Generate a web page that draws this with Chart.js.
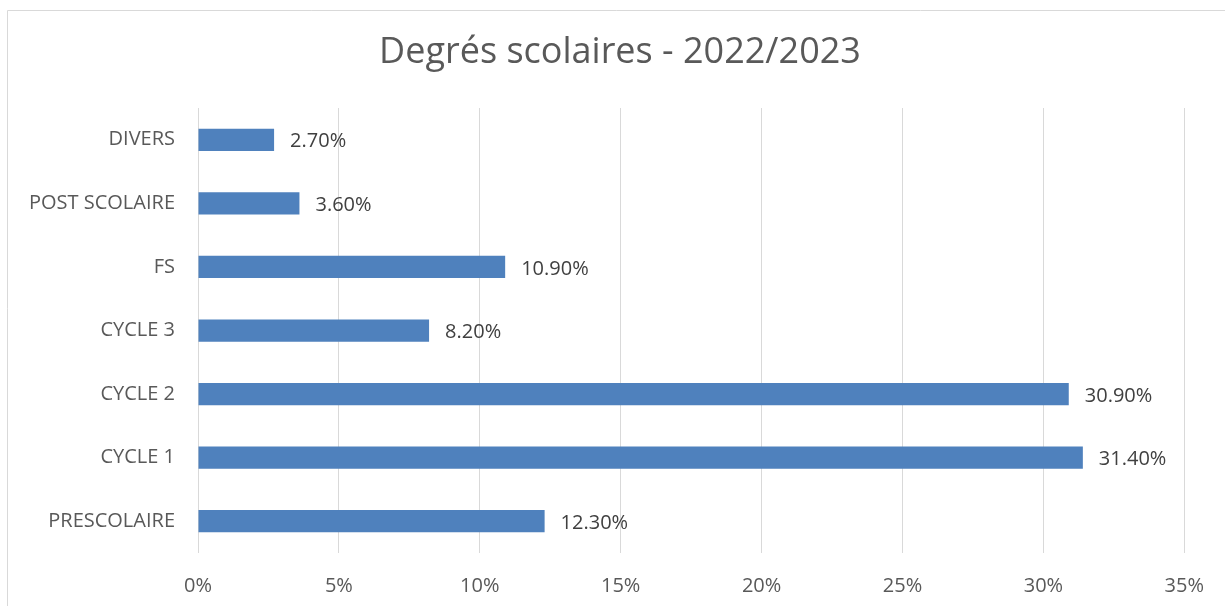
<!DOCTYPE html>
<html>
<head>
<meta charset="utf-8">
<script src="https://cdn.jsdelivr.net/npm/chart.js@4/dist/chart.umd.min.js"></script>
<style>
	body { margin: 0; background: #fff; overflow: hidden; }
	canvas { display: block; }
</style>
</head>
<body>
<canvas id="target" width="1225" height="606"></canvas>
<script>
const categories = ['DIVERS', 'POST SCOLAIRE', 'FS', 'CYCLE 3', 'CYCLE 2', 'CYCLE 1', 'PRESCOLAIRE'];
const shares = [2.7, 3.6, 10.9, 8.2, 30.9, 31.4, 12.3];
const xTicks = [0, 5, 10, 15, 20, 25, 30, 35];
const chartTitle = 'Degrés scolaires - 2022/2023';

const FONT = "'Open Sans', sans-serif";

// grey frame of the chart area (only left and top edges are visible) + title
const frame = {
	id: 'frame',
	beforeDraw(chart) {
		const ctx = chart.ctx;
		ctx.save();
		ctx.strokeStyle = '#d9d9d9';
		ctx.lineWidth = 1;
		ctx.beginPath();
		ctx.moveTo(7.5, chart.height);
		ctx.lineTo(7.5, 10.5);
		ctx.lineTo(chart.width, 10.5);
		ctx.stroke();

		// title centred on the full chart frame, not the padded box
		ctx.font = '36px ' + FONT;
		ctx.fillStyle = '#595959';
		ctx.textAlign = 'center';
		ctx.textBaseline = 'middle';
		ctx.fillText(chartTitle, 620, 53);
		ctx.restore();
	}
};

// value labels at the end of each bar
const barLabels = {
	id: 'barLabels',
	afterDatasetsDraw(chart) {
		const ctx = chart.ctx;
		const meta = chart.getDatasetMeta(0);
		ctx.save();
		ctx.font = '20px ' + FONT;
		ctx.fillStyle = '#404040';
		ctx.textAlign = 'left';
		ctx.textBaseline = 'middle';
		meta.data.forEach((bar, i) => {
			ctx.fillText(shares[i].toFixed(2) + '%', bar.x + 16, bar.y + 2);
		});
		ctx.restore();
	}
};

new Chart(document.getElementById('target'), {
	type: 'bar',
	data: {
		labels: categories,
		datasets: [{
			data: shares,
			backgroundColor: '#4f81bd',
			barPercentage: 0.35,
			categoryPercentage: 1
		}]
	},
	options: {
		indexAxis: 'y',
		responsive: false,
		animation: false,
		layout: { padding: { left: 0, right: 40, top: 108, bottom: 0 } },
		plugins: {
			legend: { display: false },
			tooltip: { enabled: false },
			title: { display: false }
		},
		scales: {
			x: {
				min: 0,
				max: 35,
				afterBuildTicks(axis) {
					axis.ticks = xTicks.map(v => ({ value: v }));
				},
				afterFit(axis) { axis.height = 53; },
				grid: { color: '#d9d9d9', lineWidth: 1, drawTicks: false },
				border: { display: false },
				ticks: {
					padding: 21,
					color: '#595959',
					font: { family: FONT, size: 20 },
					callback: v => v + '%'
				}
			},
			y: {
				afterFit(axis) { axis.width = 198; },
				grid: { display: false, drawTicks: false },
				border: { display: false },
				ticks: {
					padding: 23,
					color: '#595959',
					font: { family: FONT, size: 20 }
				}
			}
		}
	},
	plugins: [frame, barLabels]
});
</script>
</body>
</html>
